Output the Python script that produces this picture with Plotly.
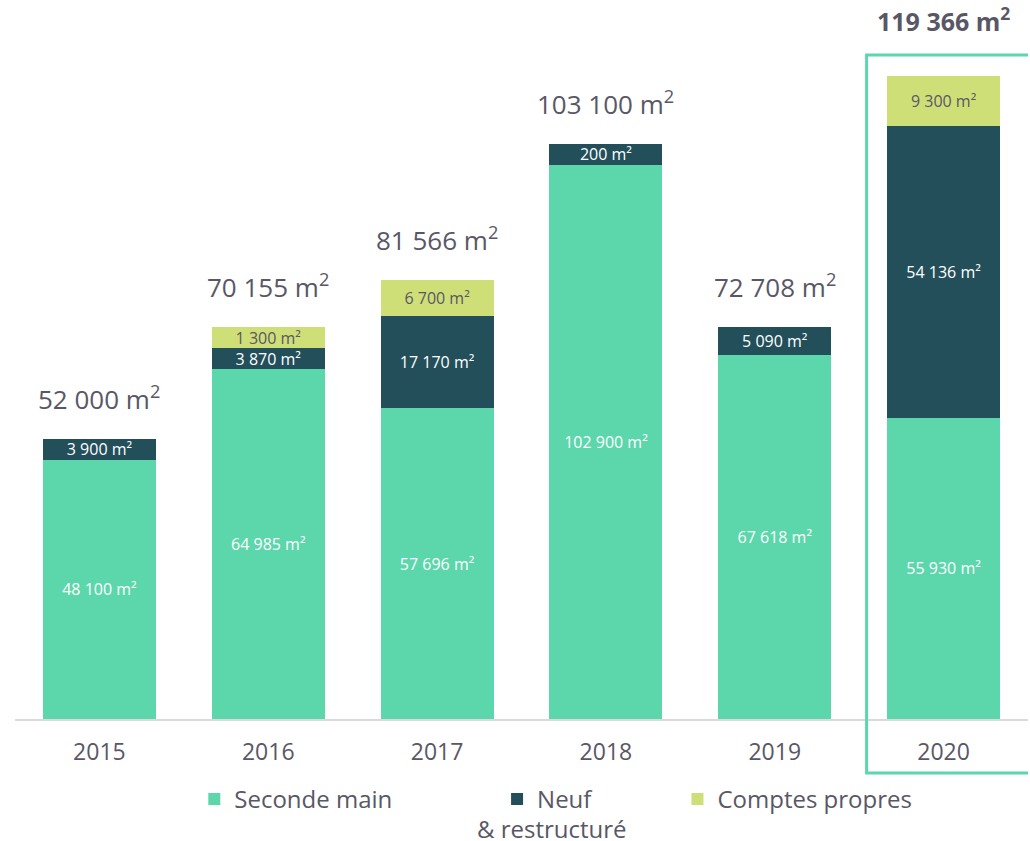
import plotly.graph_objects as go

years = ["2015", "2016", "2017", "2018", "2019", "2020"]
seconde_main = [48100, 64985, 57696, 102900, 67618, 55930]
neuf_restructure = [3900, 3870, 17170, 200, 5090, 54136]
comptes_propres = [0, 1300, 6700, 0, 0, 9300]

C_GREEN = "#5CD6AB"
C_DARK = "#234F5B"
C_LIME = "#CFDF77"
C_TEXT = "#595766"
FONT = "Open Sans"

# the original chart enlarges very thin segments so their labels stay readable
MIN_VISIBLE = 3900


def fmt(v):
    return f"{v:,}".replace(",", " ")


def shown(vals):
    return [max(v, MIN_VISIBLE) if v > 0 else 0 for v in vals]


def labels(vals):
    return [f"{fmt(v)} m²" if v > 0 else "" for v in vals]


totals = [a + b + c for a, b, c in zip(seconde_main, neuf_restructure, comptes_propres)]
tops = [a + b + c for a, b, c in zip(shown(seconde_main), shown(neuf_restructure), shown(comptes_propres))]

fig = go.Figure()
series = [
    ("Seconde main" + "\u00a0" * 16, seconde_main, C_GREEN, "white"),
    ("Neuf" + "\u00a0" * 13, neuf_restructure, C_DARK, "white"),
    ("Comptes propres", comptes_propres, C_LIME, C_TEXT),
]
for name, vals, col, tcol in series:
    fig.add_trace(go.Bar(
        x=years, y=shown(vals), name=name,
        marker=dict(color=col, line=dict(width=0)),
        text=labels(vals), textposition="inside", insidetextanchor="middle",
        textangle=0, textfont=dict(family=FONT, size=16, color=tcol),
        hoverinfo="skip",
    ))

annotations = []
for i, (tot, top) in enumerate(zip(totals, tops)):
    if i == len(years) - 1:
        annotations.append(dict(
            x=i, y=1.025, xref="x", yref="paper", yanchor="middle",
            text=f"<b>{fmt(tot)} m<sup>2</sup></b>", showarrow=False,
            font=dict(family=FONT, size=25, color=C_TEXT)))
    else:
        annotations.append(dict(
            x=i, y=top, xref="x", yref="y", yanchor="bottom", yshift=20,
            text=f"{fmt(tot)} m<sup>2</sup>", showarrow=False,
            font=dict(family=FONT, size=26, color=C_TEXT)))
# second line of the "Neuf" legend entry, centred under it as in the original
annotations.append(dict(
    x=0.530, y=0.0162, xref="paper", yref="paper", yanchor="middle", xanchor="center",
    text="& restructuré", showarrow=False,
    font=dict(family=FONT, size=24, color=C_TEXT)))

fig.update_layout(
    width=1030, height=841,
    margin=dict(l=15, r=2, t=40, b=0),
    paper_bgcolor="white", plot_bgcolor="white",
    barmode="stack", bargap=0.33,
    font=dict(family=FONT, color=C_TEXT),
    uniformtext=dict(minsize=16, mode="show"),
    showlegend=True,
    legend=dict(orientation="h", x=0.177, y=0.0799, xanchor="left", yanchor="top",
                valign="top", traceorder="normal", bgcolor="rgba(0,0,0,0)",
                font=dict(family=FONT, size=24, color=C_TEXT)),
    xaxis=dict(type="category", range=[-0.5, 5.5], showline=True, linecolor="#D9D9DE",
               linewidth=1.5, ticks="",
               tickfont=dict(family=FONT, size=23, color=C_TEXT),
               ticklabelstandoff=12, showgrid=False, zeroline=False),
    yaxis=dict(visible=False, range=[0, 126090], domain=[0.15231, 1],
               showgrid=False, zeroline=False),
    annotations=annotations,
    shapes=[dict(type="rect", xref="x", yref="paper", x0=4.544, x1=5.56,
                 y0=0.0849, y1=0.9813, line=dict(color=C_GREEN, width=3),
                 fillcolor="rgba(0,0,0,0)", layer="above")],
)

fig.write_html("out.html", config={"displayModeBar": False},
               post_script="document.body.style.margin='0';")
